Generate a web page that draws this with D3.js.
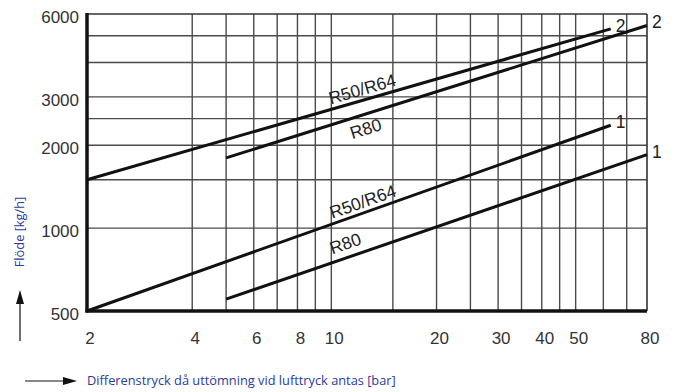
<!DOCTYPE html>
<html>
<head>
<meta charset="utf-8">
<script src="https://cdn.jsdelivr.net/npm/d3@7"></script>
<style>
  body { margin: 0; background: #fff; }
  svg { display: block; }
  .tick-label { font-family: "Liberation Sans", Arial, sans-serif; font-size: 17px; fill: #333; }
  .curve-label { font-family: "Liberation Sans", Arial, sans-serif; font-size: 17.5px; fill: #222; }
  .axis-title { font-family: "Open Sans", sans-serif; font-size: 12.8px; fill: #2b3c9b; }
</style>
</head>
<body>
<script>
// grid and tick values
const xGrid = [4, 5, 6, 7, 8, 9, 10, 15, 20, 25, 30, 35, 40, 45, 50, 60, 70];
const yGrid = [1000, 1500, 2000, 2500, 3000, 4000, 5000];
const xTicks = [2, 4, 6, 8, 10, 20, 30, 40, 50, 80];
const yTicks = [500, 1000, 2000, 3000, 6000];

// curves: [pressure bar, flow kg/h]
const curve2R5064 = [[2, 1500], [63, 5300]];
const curve2R80 = [[5, 1800], [80, 5450]];
const curve1R5064 = [[2, 500], [63, 2365]];
const curve1R80 = [[5, 552], [80, 1850]];
const curves = [curve2R5064, curve2R80, curve1R5064, curve1R80];
const curveNames = ["R50/R64", "R80", "R50/R64", "R80"];
const curveNumbers = ["2", "2", "1", "1"];

var width = 675, height = 392;
var svg = d3.select("body").append("svg")
            .attr("width", width).attr("height", height);

var x = d3.scaleLog().domain([2, 80]).range([87, 647]);
var y = d3.scaleLog().domain([500, 6000]).range([311, 14]);

// Grid
svg.append("g").selectAll("line")
   .data(xGrid).enter().append("line")
   .attr("x1", d => x(d)).attr("x2", d => x(d))
   .attr("y1", y(6000)).attr("y2", y(500))
   .attr("stroke", "#4a4a4a").attr("stroke-width", 1.4);
svg.append("g").selectAll("line")
   .data(yGrid).enter().append("line")
   .attr("x1", x(2)).attr("x2", x(80))
   .attr("y1", d => y(d)).attr("y2", d => y(d))
   .attr("stroke", "#4a4a4a").attr("stroke-width", 1.4);

// Frame
svg.append("line").attr("x1", x(2)).attr("x2", x(80)).attr("y1", y(6000)).attr("y2", y(6000))
   .attr("stroke", "#333").attr("stroke-width", 1.6);
svg.append("line").attr("x1", x(80)).attr("x2", x(80)).attr("y1", y(6000)).attr("y2", y(500))
   .attr("stroke", "#333").attr("stroke-width", 1.6);
svg.append("line").attr("x1", x(2)).attr("x2", x(2)).attr("y1", y(6000) - 1).attr("y2", y(500) + 1.5)
   .attr("stroke", "#111").attr("stroke-width", 3.5);
svg.append("line").attr("x1", x(2) - 1.5).attr("x2", x(80)).attr("y1", y(500)).attr("y2", y(500))
   .attr("stroke", "#111").attr("stroke-width", 3.5);

// Tick labels
svg.append("g").selectAll("text")
   .data(xTicks).enter().append("text")
   .attr("class", "tick-label")
   .attr("x", d => x(d) + 3).attr("y", 344)
   .attr("text-anchor", "middle")
   .text(d => d);
svg.append("g").selectAll("text")
   .data(yTicks).enter().append("text")
   .attr("class", "tick-label")
   .attr("x", 79).attr("y", d => y(d) + 3)
   .attr("dy", "0.35em")
   .attr("text-anchor", "end")
   .text(d => d);

// Curves
var line = d3.line().x(d => x(d[0])).y(d => y(d[1]));
svg.append("g").selectAll("path")
   .data(curves).enter().append("path")
   .attr("d", line)
   .attr("fill", "none").attr("stroke", "#111").attr("stroke-width", 3);

// Curve labels along lines: x value and perpendicular offset
const labelAt = [12.5, 12.2, 12.6, 11.3];
const labelOffset = [-11, 14, -11, -14];
curves.forEach((c, i) => {
    var x0 = x(c[0][0]), y0 = y(c[0][1]), x1 = x(c[1][0]), y1 = y(c[1][1]);
    var ang = Math.atan2(y1 - y0, x1 - x0);
    var px = x(labelAt[i]);
    var py = y0 + (px - x0) * (y1 - y0) / (x1 - x0);
    var cx = px - Math.sin(ang) * labelOffset[i];
    var cy = py + Math.cos(ang) * labelOffset[i];
    svg.append("text")
       .attr("class", "curve-label")
       .attr("text-anchor", "middle").attr("dy", "0.35em")
       .attr("transform", "translate(" + cx + "," + cy + ") rotate(" + (ang * 180 / Math.PI) + ")")
       .text(curveNames[i]);
    // end number
    svg.append("text")
       .attr("class", "curve-label")
       .attr("x", x1 + 5).attr("y", y1 + 3)
       .text(curveNumbers[i]);
});

// Axis titles and arrows
svg.append("text")
   .attr("class", "axis-title")
   .attr("transform", "translate(24,232) rotate(-90)")
   .attr("text-anchor", "middle")
   .text("Flöde [kg/h]");
svg.append("line").attr("x1", 20).attr("x2", 20).attr("y1", 341).attr("y2", 300)
   .attr("stroke", "#111").attr("stroke-width", 1.2);
svg.append("path").attr("d", "M20,290 L16,304 L24,304 Z").attr("fill", "#111");

svg.append("line").attr("x1", 25).attr("x2", 66).attr("y1", 381).attr("y2", 381)
   .attr("stroke", "#111").attr("stroke-width", 1.2);
svg.append("path").attr("d", "M77,381 L63,377 L63,385 Z").attr("fill", "#111");
svg.append("text")
   .attr("class", "axis-title")
   .attr("x", 87).attr("y", 385)
   .text("Differenstryck då uttömning vid lufttryck antas [bar]");
</script>
</body>
</html>
